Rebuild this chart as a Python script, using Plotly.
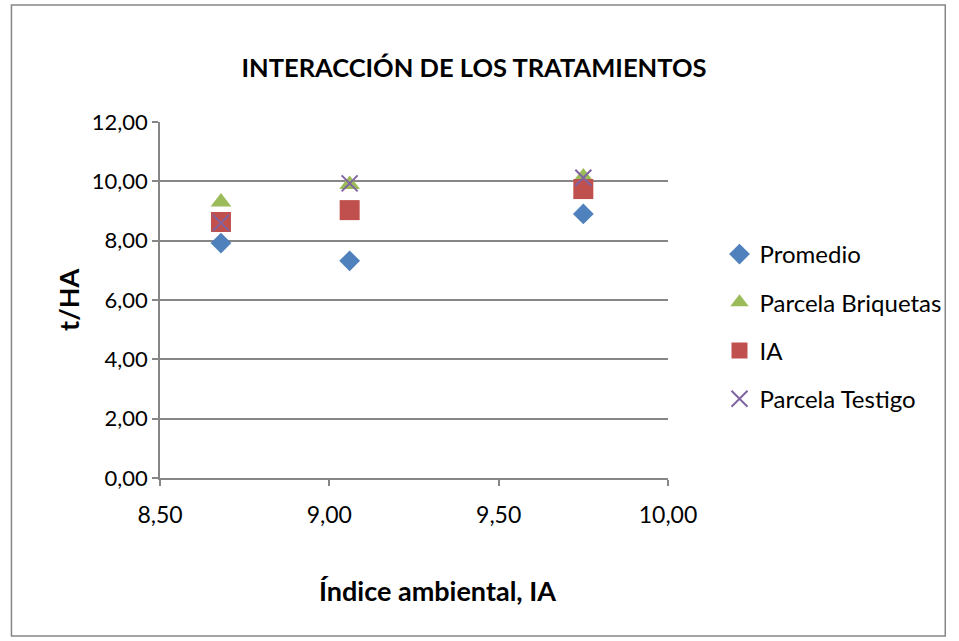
import plotly.graph_objects as go

# Data
ia_x = [8.68, 9.06, 9.75]
promedio = [7.92, 7.32, 8.90]
briquetas = [9.30, 9.89, 10.15]
ia_y = [8.63, 9.03, 9.74]
testigo = [8.60, 9.93, 10.12]

x_ticks = [8.5, 9.0, 9.5, 10.0]
y_ticks = [0, 2, 4, 6, 8, 10, 12]

W, H = 959, 641
L, R, T, B = 160, 286, 122, 163
pw, ph = W - L - R, H - T - B

FONT = "Lato"
GRID = "#868686"

fig = go.Figure()
series = [
    ("Promedio", promedio, dict(symbol="diamond", size=16, color="#4F81BD")),
    ("Parcela Briquetas", briquetas, dict(symbol="triangle-up", size=18, color="#9BBB59")),
    ("IA", ia_y, dict(symbol="square", size=20, color="#C0504D")),
    ("Parcela Testigo", testigo, dict(symbol="x-thin", size=16, color="#8064A2",
                                       line=dict(color="#8064A2", width=2))),
]
for i, (name, ys, mk) in enumerate(series):
    fig.add_trace(go.Scatter(x=ia_x, y=ys, mode="markers", name=name, marker=mk,
                             legendgroup=f"g{i}"))

def px_x(p):
    return (p - L) / pw

def px_y(p):
    return (H - B - p) / ph

fig.add_shape(type="rect", xref="paper", yref="paper",
              x0=px_x(10), x1=px_x(953), y0=px_y(636), y1=px_y(5),
              line=dict(color="#868686", width=1.5), fillcolor="rgba(0,0,0,0)")

fig.add_annotation(text="<b>Índice ambiental, IA</b>", xref="paper", yref="paper",
                   x=px_x(440), y=px_y(590), xanchor="center", yanchor="middle",
                   showarrow=False, font=dict(family=FONT, size=27))
fig.add_annotation(text="<b>t/HA</b>", xref="paper", yref="paper",
                   x=px_x(67), y=px_y(300), xanchor="center", yanchor="middle",
                   textangle=-90, showarrow=False, font=dict(family=FONT, size=27))

fig.update_layout(
    width=W, height=H,
    margin=dict(l=L, r=R, t=T, b=B),
    paper_bgcolor="white", plot_bgcolor="white",
    separators=",.",
    font=dict(family=FONT, size=23, color="#000000"),
    title=dict(text="<b>INTERACCIÓN DE LOS TRATAMIENTOS</b>", xref="container",
               x=474 / W, xanchor="center",
               y=1 - 68 / H, yanchor="middle", font=dict(family=FONT, size=25.5)),
    xaxis=dict(range=[8.5, 10.0], tickvals=x_ticks, tickformat=".2f",
               showgrid=False, zeroline=False, showline=True, linecolor=GRID, linewidth=1.5,
               ticks="outside", ticklen=6, tickcolor=GRID, tickwidth=1.5,
               ticklabelstandoff=10,
               tickfont=dict(family=FONT, size=23)),
    yaxis=dict(range=[0, 12], tickvals=y_ticks, tickformat=".2f",
               showgrid=True, gridcolor=GRID, gridwidth=1.5, zeroline=False,
               showline=True, linecolor=GRID, linewidth=1.5,
               ticks="outside", ticklen=6, tickcolor=GRID, tickwidth=1.5,
               tickfont=dict(family=FONT, size=22)),
    legend=dict(x=px_x(725), xanchor="left", y=px_y(232), yanchor="top",
                font=dict(family=FONT, size=24), tracegroupgap=14,
                itemsizing="trace", bgcolor="rgba(0,0,0,0)"),
    showlegend=True,
)

fig.write_html("out.html", config={"displayModeBar": False},
               post_script="document.body.style.margin='0';document.body.style.overflow='hidden';")
